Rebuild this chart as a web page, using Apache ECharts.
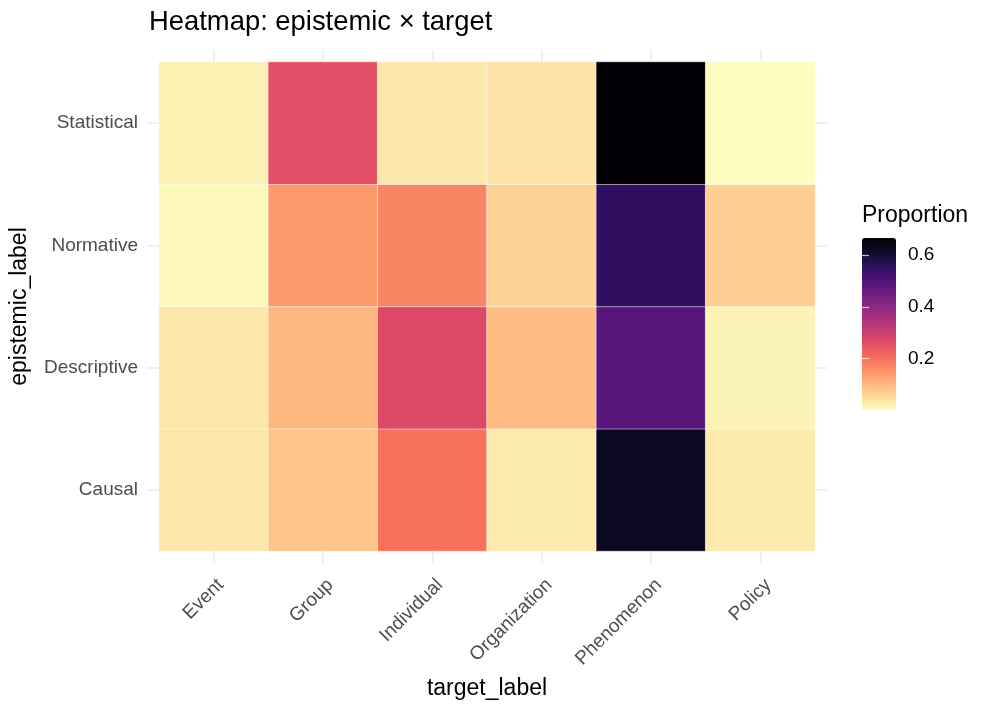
<!DOCTYPE html>
<html>
<head>
<meta charset="utf-8">
<script src="https://cdn.jsdelivr.net/npm/echarts@6/dist/echarts.min.js"></script>
<style>
  html, body { margin: 0; padding: 0; background: #fff; }
  #chart { width: 996px; height: 712px; }
</style>
</head>
<body>
<div id="chart"></div>
<script>
// categories
const targets = ["Event", "Group", "Individual", "Organization", "Phenomenon", "Policy"];
const epistemics = ["Causal", "Descriptive", "Normative", "Statistical"]; // bottom -> top

// proportions per row (epistemic), one value per target
const causal      = [0.033, 0.080, 0.198, 0.027, 0.625, 0.027];
const descriptive = [0.033, 0.100, 0.266, 0.093, 0.488, 0.013];
const normative   = [0.007, 0.140, 0.170, 0.063, 0.550, 0.067];
const statistical = [0.017, 0.256, 0.030, 0.037, 0.665, 0.000];

const legendTicks = [0.2, 0.4, 0.6];

// magma, reversed (light -> dark)
const magmaRev = ["#fcfdbf", "#fecf92", "#fe9f6d", "#f7705c", "#de4968", "#b73779",
                  "#8c2981", "#641a80", "#3b0f70", "#140e36", "#000004"];

const rows = [causal, descriptive, normative, statistical];
const cells = [];
rows.forEach((vals, yi) => {
  vals.forEach((v, xi) => cells.push([xi, yi, v]));
});
const vMin = Math.min(...cells.map(c => c[2]));
const vMax = Math.max(...cells.map(c => c[2]));

const font = "Liberation Sans, Arial, Helvetica, sans-serif";
const gridCol = "#EBEBEB";

// grid lines only show outside the tiles, so draw them as outward ticks
const stub = {
  show: true,
  alignWithLabel: true,
  length: 12,
  lineStyle: { color: gridCol, width: 1.5 }
};

const chart = echarts.init(document.getElementById("chart"));
chart.setOption({
  animation: false,
  backgroundColor: "#fff",
  title: {
    text: "Heatmap: epistemic \u00d7 target",
    left: 144,
    top: 4,
    textStyle: { fontFamily: font, fontSize: 27.4, fontWeight: "normal", color: "#000" }
  },
  grid: [
    { left: 158, top: 62, width: 657, height: 489 },
    { left: 862, top: 203.6, width: 34, height: 206.4 },
    // same as grid 0, nudged right: carries the rotated x labels only
    { left: 166, top: 62, width: 657, height: 489 }
  ],
  xAxis: [
    {
      gridIndex: 0,
      type: "category",
      data: targets,
      position: "bottom",
      axisLine: { show: false },
      axisTick: stub,
      splitLine: { show: false },
      axisLabel: { show: false },
      name: "target_label",
      nameLocation: "middle",
      nameGap: 126,
      nameTextStyle: { fontFamily: font, fontSize: 23, color: "#000" }
    },
    {
      gridIndex: 0,
      type: "category",
      data: targets,
      position: "top",
      axisLine: { show: false },
      axisTick: stub,
      axisLabel: { show: false }
    },
    { gridIndex: 1, type: "value", show: false, min: 0, max: 1 },
    {
      gridIndex: 2,
      type: "category",
      data: targets,
      position: "bottom",
      axisLine: { show: false },
      axisTick: { show: false },
      splitLine: { show: false },
      axisLabel: {
        rotate: 45,
        margin: 31,
        fontFamily: font,
        fontSize: 19,
        color: "#4D4D4D"
      }
    }
  ],
  yAxis: [
    {
      gridIndex: 0,
      type: "category",
      data: epistemics,
      position: "left",
      axisLine: { show: false },
      axisTick: stub,
      splitLine: { show: false },
      axisLabel: {
        margin: 21,
        fontFamily: font,
        fontSize: 19,
        color: "#4D4D4D"
      },
      name: "epistemic_label",
      nameLocation: "middle",
      nameGap: 128,
      nameTextStyle: { fontFamily: font, fontSize: 23, color: "#000" }
    },
    {
      gridIndex: 0,
      type: "category",
      data: epistemics,
      position: "right",
      axisLine: { show: false },
      axisTick: stub,
      axisLabel: { show: false }
    },
    {
      gridIndex: 1,
      type: "value",
      position: "right",
      min: 0,
      max: 0.8,
      interval: 0.2,
      z: 10,
      axisLine: { show: false },
      splitLine: { show: false },
      axisTick: { show: true, inside: true, length: 7, lineStyle: { color: "rgba(255,255,255,0.75)", width: 1.2 } },
      axisLabel: {
        margin: 12,
        fontFamily: font,
        fontSize: 19,
        color: "#000",
        formatter: v => (legendTicks.some(t => Math.abs(t - v) < 1e-6) ? v.toFixed(1) : "")
      }
    },
    {
      gridIndex: 1,
      type: "value",
      position: "left",
      min: 0,
      max: 0.8,
      interval: 0.2,
      z: 10,
      axisLine: { show: false },
      splitLine: { show: false },
      axisTick: { show: true, inside: true, length: 7, lineStyle: { color: "rgba(255,255,255,0.75)", width: 1.2 } },
      axisLabel: { show: false }
    },
    { gridIndex: 2, type: "category", data: epistemics, show: false }
  ],
  visualMap: {
    type: "continuous",
    min: vMin,
    max: vMax,
    calculable: false,
    orient: "vertical",
    left: 862,
    top: 238,
    padding: 0,
    itemWidth: 34,
    itemHeight: 172,
    text: null,
    seriesIndex: 0,
    inRange: { color: magmaRev }
  },
  graphic: [
    {
      type: "text",
      left: 862,
      top: 204,
      style: { text: "Proportion", fontFamily: font, fontSize: 23, fill: "#000" }
    }
  ],
  series: [
    {
      type: "heatmap",
      xAxisIndex: 0,
      yAxisIndex: 0,
      data: cells,
      itemStyle: { borderColor: "#fff", borderWidth: 0.5 },
      emphasis: { disabled: true }
    }
  ]
});
</script>
</body>
</html>
